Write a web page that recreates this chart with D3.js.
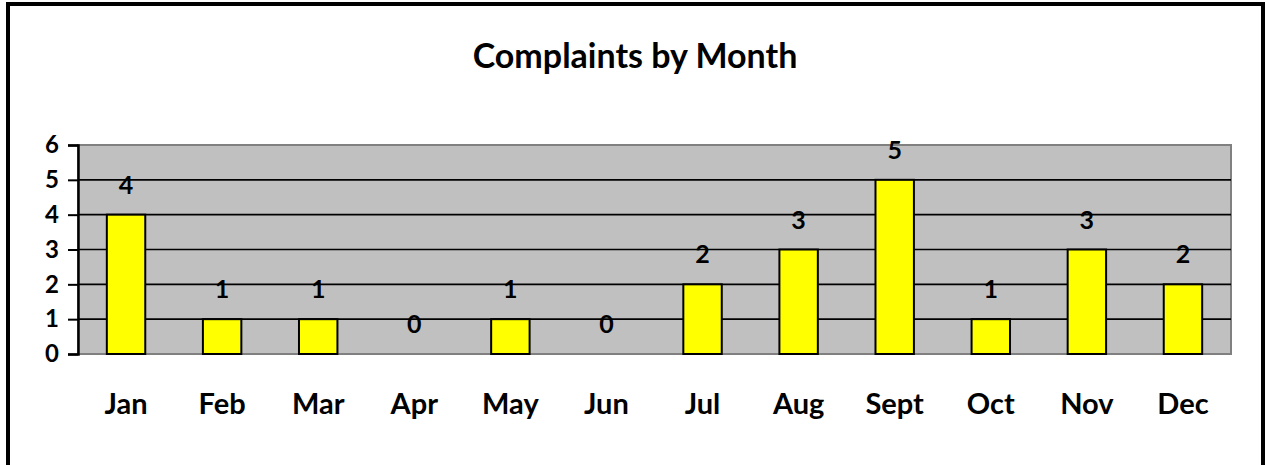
<!DOCTYPE html>
<html>
<head>
<meta charset="utf-8">
<script src="https://cdn.jsdelivr.net/npm/d3@7"></script>
<style>
  body { margin: 0; background: #fff; }
  text { font-family: Lato, "Open Sans", sans-serif; font-weight: bold; fill: #000; }
</style>
</head>
<body>
<script>
// chart data
let months = ["Jan", "Feb", "Mar", "Apr", "May", "Jun", "Jul", "Aug", "Sept", "Oct", "Nov", "Dec"];
let complaints = [4, 1, 1, 0, 1, 0, 2, 3, 5, 1, 3, 2];
let yTicks = [0, 1, 2, 3, 4, 5, 6];
let title = "Complaints by Month";

let w = 1265, h = 465;
let plot = { left: 78, top: 145, right: 1231, bottom: 354 };

let svg = d3.select("body").append("svg")
    .attr("width", w)
    .attr("height", h);

// outer frame
svg.append("rect")
    .attr("x", 8).attr("y", 4)
    .attr("width", 1255).attr("height", 480)
    .attr("fill", "none")
    .attr("stroke", "#000")
    .attr("stroke-width", 4);

svg.append("text")
    .attr("x", 635).attr("y", 68)
    .attr("text-anchor", "middle")
    .style("font-size", "34px")
    .text(title);

let x = d3.scaleBand()
    .domain(months)
    .range([plot.left, plot.right])
    .paddingInner(0.6)
    .paddingOuter(0.3);

let y = d3.scaleLinear()
    .domain([0, 6])
    .range([plot.bottom, plot.top]);

// plot area
svg.append("rect")
    .attr("x", plot.left).attr("y", plot.top)
    .attr("width", plot.right - plot.left)
    .attr("height", plot.bottom - plot.top)
    .attr("fill", "#c0c0c0")
    .attr("stroke", "#808080")
    .attr("stroke-width", 2);

// gridlines
svg.append("g")
    .selectAll("line")
    .data(yTicks.filter(d => d > 0 && d < 6))
    .enter()
    .append("line")
    .attr("x1", plot.left).attr("x2", plot.right)
    .attr("y1", d => y(d)).attr("y2", d => y(d))
    .attr("stroke", "#000")
    .attr("stroke-width", 1.6);

// y axis
let yAxis = svg.append("g")
    .attr("transform", "translate(" + plot.left + ",0)")
    .call(d3.axisLeft(y).tickValues(yTicks).tickSize(10).tickPadding(9).tickFormat(d3.format("d")));
yAxis.select(".domain").attr("stroke", "#000").attr("stroke-width", 2.5);
yAxis.selectAll(".tick line").attr("stroke", "#000").attr("stroke-width", 2);
yAxis.selectAll(".tick text")
    .style("font-size", "24px")
    .style("font-family", "Lato, sans-serif")
    .attr("fill", "#000");

// bars
svg.append("g")
    .selectAll("rect")
    .data(complaints)
    .enter()
    .append("rect")
    .attr("x", (d, i) => x(months[i]))
    .attr("y", d => y(d))
    .attr("width", x.bandwidth())
    .attr("height", d => y(0) - y(d))
    .attr("fill", "#ffff00")
    .attr("stroke", "#000")
    .attr("stroke-width", 2);

// value labels
svg.append("g")
    .selectAll("text")
    .data(complaints)
    .enter()
    .append("text")
    .attr("x", (d, i) => x(months[i]) + x.bandwidth() / 2)
    .attr("y", d => y(d) - 21)
    .attr("text-anchor", "middle")
    .style("font-size", "25px")
    .text(d => d);

// month labels
svg.append("g")
    .selectAll("text")
    .data(months)
    .enter()
    .append("text")
    .attr("x", d => x(d) + x.bandwidth() / 2)
    .attr("y", 414)
    .attr("text-anchor", "middle")
    .style("font-size", "29px")
    .text(d => d);
</script>
</body>
</html>
